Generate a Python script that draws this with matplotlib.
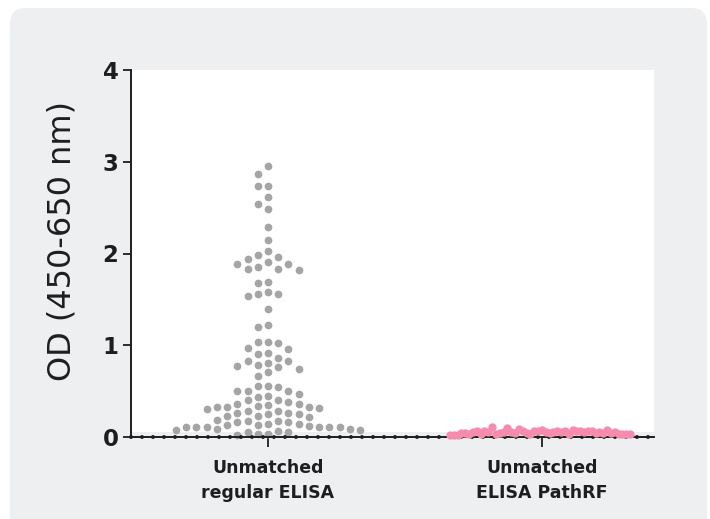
import numpy as np
import matplotlib
matplotlib.use("Agg")
import matplotlib.pyplot as plt
from matplotlib.patches import FancyBboxPatch

# data
categories = ["Unmatched\nregular ELISA", "Unmatched\nELISA PathRF"]
regular_elisa = [
    2.95, 2.87, 2.74, 2.74, 2.62, 2.54, 2.48, 2.29, 2.15, 2.03,
    1.98, 1.96, 1.94, 1.91, 1.89, 1.89, 1.85, 1.83, 1.83, 1.82,
    1.69, 1.68, 1.58, 1.56, 1.56, 1.54, 1.39, 1.22, 1.20, 1.04,
    1.03, 1.02, 0.97, 0.96, 0.92, 0.91, 0.86, 0.83, 0.83, 0.81,
    0.79, 0.77, 0.76, 0.74, 0.71, 0.66, 0.56, 0.56, 0.55, 0.50,
    0.50, 0.50, 0.47, 0.45, 0.44, 0.40, 0.40, 0.38, 0.36, 0.36,
    0.35, 0.34, 0.33, 0.33, 0.33, 0.32, 0.31, 0.28, 0.28, 0.26,
    0.26, 0.25, 0.25, 0.23, 0.23, 0.22, 0.19, 0.17, 0.17, 0.16,
    0.16, 0.14, 0.14, 0.13, 0.13, 0.12, 0.11, 0.11, 0.11, 0.11,
    0.11, 0.105, 0.09, 0.09, 0.08, 0.08, 0.06, 0.05, 0.05, 0.03,
    0.03, 0.02,
]
pathrf_elisa = [
    0.08, 0.07, 0.05, 0.06, 0.04, 0.03, 0.05, 0.04, 0.06, 0.07,
    0.05, 0.09, 0.06, 0.04, 0.03, 0.05, 0.08, 0.10, 0.06, 0.05,
    0.07, 0.04, 0.05, 0.03, 0.06, 0.11, 0.07, 0.05, 0.04, 0.06,
    0.05, 0.03, 0.04, 0.07, 0.08, 0.05, 0.04, 0.03, 0.05, 0.04,
    0.03, 0.04, 0.03, 0.02, 0.03, 0.02, 0.03, 0.02,
]
yticks = [0, 1, 2, 3, 4]

GREY = "#a5a5a5"
PINK = "#f58cae"
CARD = "#eeeff1"
INK = "#1e1e1e"


def swarm_x(ax, values, center, dot=8.5, col=11.0, half=92.0):
    # column-based beeswarm, computed in pixels
    pts = ax.transData.transform(np.column_stack([np.full(len(values), center), values]))
    order = [0]
    for i in range(1, 300):
        order += [-i, i]
    placed = {}
    cols = []
    for y in pts[:, 1]:
        for c in order:
            if all(abs(y - yy) >= dot for yy in placed.get(c, [])):
                break
        placed.setdefault(c, []).append(y)
        cols.append(c)
    cols = np.array(cols, dtype=float)
    step = min(col, half / max(1.0, np.abs(cols).max()))
    xpix = pts[:, 0] + cols * step
    return ax.transData.inverted().transform(np.column_stack([xpix, pts[:, 1]]))[:, 0]


fig = plt.figure(figsize=(7.1, 5.19), dpi=100)
card = FancyBboxPatch((0.10, -0.3), 6.97, 5.41,
                      boxstyle="round,pad=0,rounding_size=0.16",
                      transform=fig.dpi_scale_trans,
                      facecolor=CARD, edgecolor="none", zorder=-10)
fig.patches.append(card)

ax = fig.add_axes([131 / 710, 82 / 519, 523 / 710, 367 / 519])
ax.set_zorder(1)
ax.set_facecolor(CARD)
ax.set_xlim(-0.5, 1.409)
ax.set_ylim(0, 4)
ax.axhspan(0.055, 4, color="white", zorder=0, lw=0)

xs_reg = swarm_x(ax, regular_elisa, 0)
xs_path = swarm_x(ax, pathrf_elisa, 1)
ax.scatter(xs_reg, regular_elisa, s=31, color=GREY, lw=0, zorder=2, clip_on=False)
ax.plot([-0.5, 1.409], [0, 0], color=INK, lw=2.9, linestyle=(0, (0.001, 2.73)),
        dash_capstyle="round", zorder=2.5, clip_on=False)
ax.scatter(xs_path, pathrf_elisa, s=36, color=PINK, lw=0, zorder=3, clip_on=False)

for side in ["top", "right"]:
    ax.spines[side].set_visible(False)
for side in ["left", "bottom"]:
    ax.spines[side].set_color(INK)
    ax.spines[side].set_linewidth(1.4)

ax.set_yticks(yticks)
ax.set_yticklabels([str(t) for t in yticks], fontsize=16.5, fontweight="bold", color=INK)
ax.set_xticks([0, 1])
ax.set_xticklabels(categories, fontsize=12.5, fontweight="bold", color=INK, linespacing=1.45)
ax.tick_params(axis="y", length=6, width=1.3, color=INK, pad=3)
ax.tick_params(axis="x", length=7, width=1.3, color=INK, pad=9)

ax.set_ylabel("OD (450-650 nm)", fontsize=23, color=INK)
ax.yaxis.set_label_coords(-0.103, 0.534)

fig.savefig("out.png", dpi=100, facecolor="white")
